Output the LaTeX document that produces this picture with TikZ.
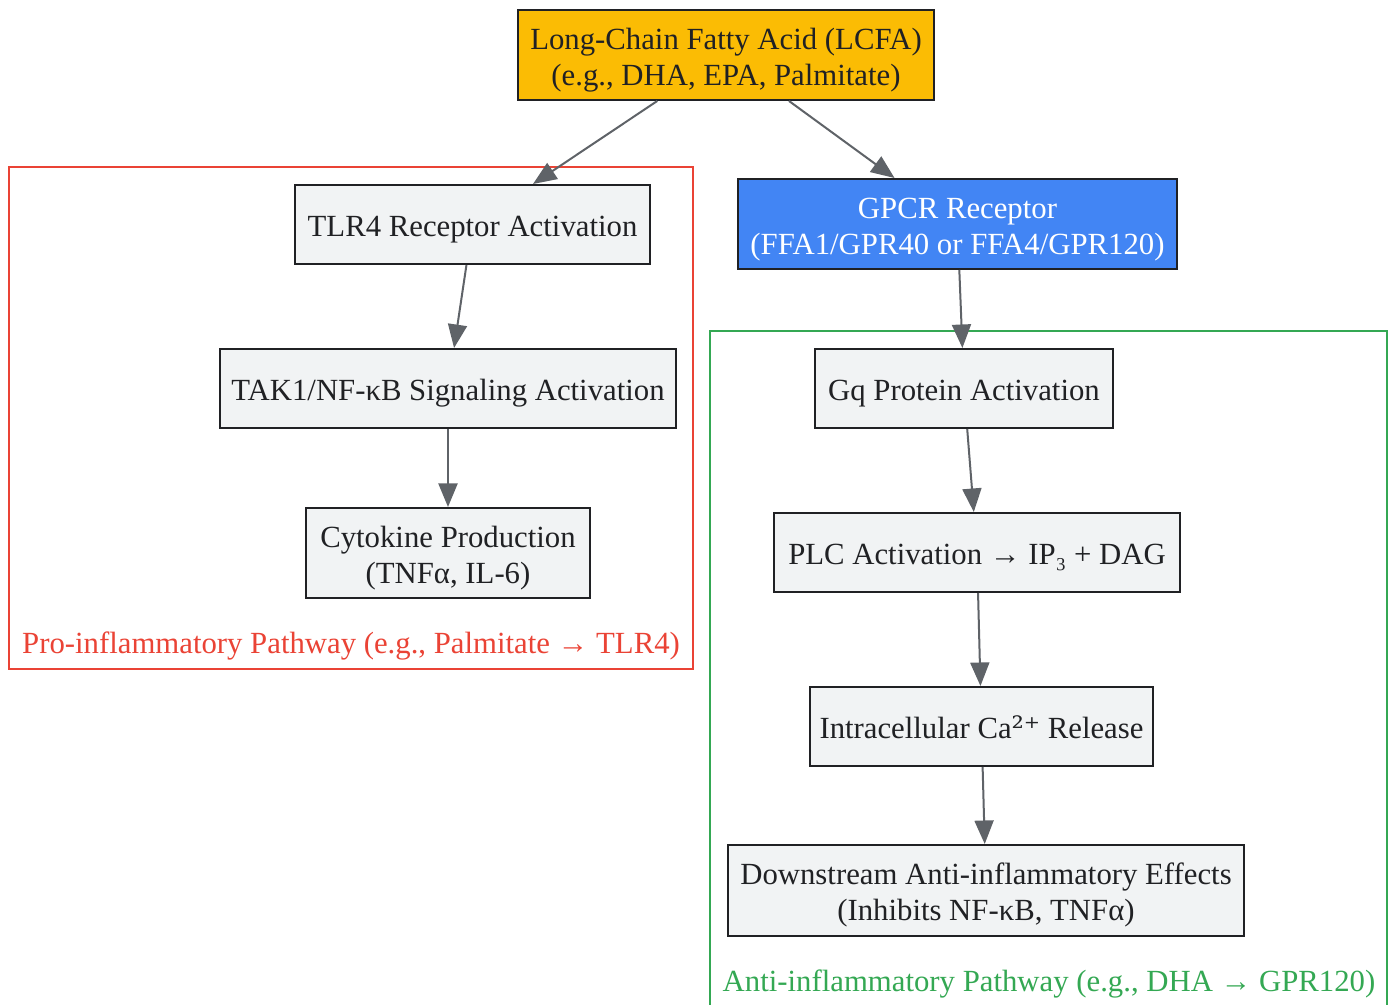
\documentclass[tikz,border=0pt]{standalone}
\usepackage{fontspec}
\setmainfont{Liberation Serif}
\newfontfamily\supfont{DejaVu Serif}
\usetikzlibrary{arrows.meta,positioning}
\definecolor{lcfaYellow}{HTML}{FBBC04}
\definecolor{gpcrBlue}{HTML}{4285F4}
\definecolor{stepGray}{HTML}{F1F3F4}
\definecolor{edgeGray}{HTML}{5F6368}
\definecolor{textDark}{HTML}{202124}
\definecolor{proRed}{HTML}{EA4335}
\definecolor{antiGreen}{HTML}{34A853}
\newcommand{\TwoLines}[2]{\raisebox{-2.75pt}[\height][\depth]{\begin{tabular}{@{}c@{}}#1\\#2\end{tabular}}}

\begin{document}
\begin{tikzpicture}[
                    >={Triangle[length=4.7mm,width=3.8mm]},
                x=0.2mm, y=-0.2mm,
                font=\fontsize{17.5}{20.5}\selectfont,
                box/.style={draw=textDark, line width=0.4mm, fill=stepGray,
                            text=textDark, align=center, inner sep=0pt,
                            execute at begin node={\rule{0pt}{1em}},
                            execute at end node={\rule[-0.22em]{0pt}{0pt}}},
                flow/.style={->, draw=edgeGray, line width=0.4mm}]

                \useasboundingbox (0,0) rectangle (1393,1005);

                % pathway frames
                \draw[proRed, line width=0.35mm] (9,167) rectangle (693,669);
                \draw[antiGreen, line width=0.35mm] (710,331) rectangle (1387,1020);
                \draw(351,646) node (PL) {\textcolor{proRed}{Pro-inflammatory Pathway (e.g., Palmitate → TLR4)}};
                \draw(1049,984) node (AL) {\textcolor{antiGreen}{Anti-inflammatory Pathway (e.g., DHA → GPR120)}};

                \draw(726,55) node[box, fill=lcfaYellow, minimum width=83.2mm, minimum height=18mm] (LCFA)
                {\TwoLines{Long-Chain Fatty Acid (LCFA)}{(e.g., DHA, EPA, Palmitate)}};
                \draw(957.5,224) node[box, fill=gpcrBlue, text=white, minimum width=87.8mm, minimum height=18mm] (GPCR)
                {\TwoLines{GPCR Receptor}{(FFA1/GPR40 or FFA4/GPR120)}};

                % pro-inflammatory side
                \draw(472.5,224.5) node[box, minimum width=71mm, minimum height=15.8mm] (TLR) {TLR4 Receptor Activation};
                \draw(448,388.5) node[box, minimum width=91.2mm, minimum height=15.8mm] (TAK) {TAK1/NF-κB Signaling Activation};
                \draw(448,553) node[box, minimum width=56.8mm, minimum height=18mm] (CYT) {\TwoLines{Cytokine Production}{(TNFα, IL-6)}};

                % anti-inflammatory side
                \draw(964,388.5) node[box, minimum width=59.6mm, minimum height=15.8mm] (GQ) {Gq Protein Activation};
                \draw(977,552.5) node[box, minimum width=81.2mm, minimum height=15.8mm] (PLC) {PLC Activation → IP₃ + DAG};
                \draw(981.5,726.5) node[box, minimum width=68.6mm, minimum height=15.8mm] (CA) {Intracellular Ca{\supfont ²⁺} Release};
                \draw(986,890.5) node[box, minimum width=103.2mm, minimum height=18.2mm] (DOWN)
                {\TwoLines{Downstream Anti-inflammatory Effects}{(Inhibits NF-κB, TNFα)}};

                \draw[flow] (LCFA) to (TLR);
                \draw[flow] (LCFA) to (GPCR);
                \draw[flow] (TLR) to (TAK);
                \draw[flow] (TAK) to (CYT);
                \draw[flow] (GPCR) to (GQ);
                \draw[flow] (GQ) to (PLC);
                \draw[flow] (PLC) to (CA);
                \draw[flow] (CA) to (DOWN);

            \end{tikzpicture}
\end{document}
